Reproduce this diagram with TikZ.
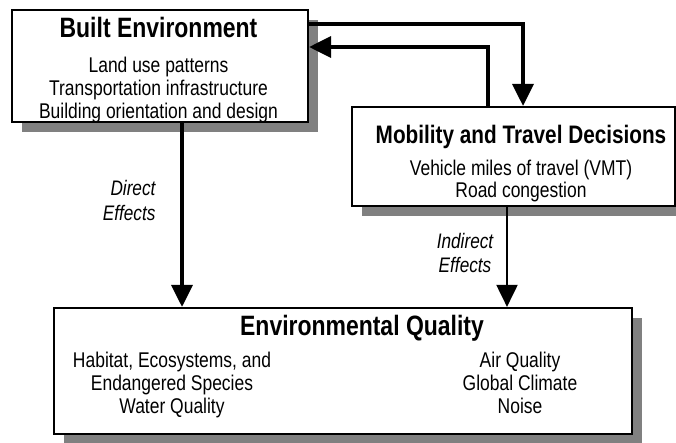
\documentclass[tikz,border=0pt]{standalone}
\usepackage{fontspec}
\setmainfont{Liberation Sans}[FakeStretch=0.82]
\usepackage{tikz}
\usetikzlibrary{arrows.meta, shadows}

\definecolor{shadowgray}{HTML}{808080}

\begin{document}
\begin{tikzpicture}[x=1pt, y=-1pt,
	box/.style={draw, line width=2.2pt, fill=white, inner sep=0pt,
		drop shadow={shadow xshift=10pt, shadow yshift=-10pt, fill=shadowgray, opacity=1}},
	head/.style={anchor=base, font=\fontsize{#1}{30}\selectfont\bfseries},
	item/.style={anchor=base, font=\fontsize{21.3}{23}\selectfont},
	effect/.style={font=\fontsize{21}{25}\selectfont\itshape},
	link/.style={line width=#1, -{Triangle[length=22pt, width=21pt]}}]
					\useasboundingbox (0,0) rectangle (676,442);

					\node[box, minimum width=296pt, minimum height=112pt] (built) at (160,66) {};
					\node[box, minimum width=323pt, minimum height=99pt] (mob) at (513.5,156.5) {};
					\node[box, minimum width=578pt, minimum height=126pt] (env) at (343,371) {};

					\node[head=28] (builthead) at (158.5,37) {Built Environment};
					\foreach \txt [count=\i] in {Land use patterns, Transportation infrastructure, Building orientation and design}
						\node[item] (built\i) at (158.5,49+23*\i) {\txt};

					\node[head=25.3] (mobhead) at (521,143) {Mobility and Travel Decisions};
					\foreach \txt [count=\i] in {Vehicle miles of travel (VMT), Road congestion}
						\node[item] (mob\i) at (521,153+22*\i) {\txt};

					\node[head=28] (envhead) at (362,335) {Environmental Quality};
					\foreach \txt [count=\i] in {{Habitat, Ecosystems, and}, Endangered Species, Water Quality}
						\node[item] (envl\i) at (172,344+23*\i) {\txt};
					\foreach \txt [count=\i] in {Air Quality, Global Climate, Noise}
						\node[item] (envr\i) at (520,344+23*\i) {\txt};

					\begin{scope}[effect]
						\node[anchor=base east] (direct1) at (159,195) {Direct};
						\node[anchor=base east] (direct2) at (159,220) {Effects};
						\node[anchor=base] (indirect1) at (465,248) {Indirect};
						\node[anchor=base] (indirect2) at (465,272) {Effects};
					\end{scope}

					\begin{scope}
						\draw[link=3.5pt] ([yshift=42pt]built.east) -| ([xshift=9.5pt]mob.north);
						\draw[link=3.5pt] ([xshift=-25.5pt]mob.north) |- ([yshift=19pt]built.east);
						\draw[link=3.5pt] ([xshift=22pt]built.south) -- ([xshift=22pt]built.south |- env.north);
						\draw[link=2pt] ([xshift=-6.5pt]mob.south) -- ([xshift=-6.5pt]mob.south |- env.north);
					\end{scope}
				\end{tikzpicture}
\end{document}
